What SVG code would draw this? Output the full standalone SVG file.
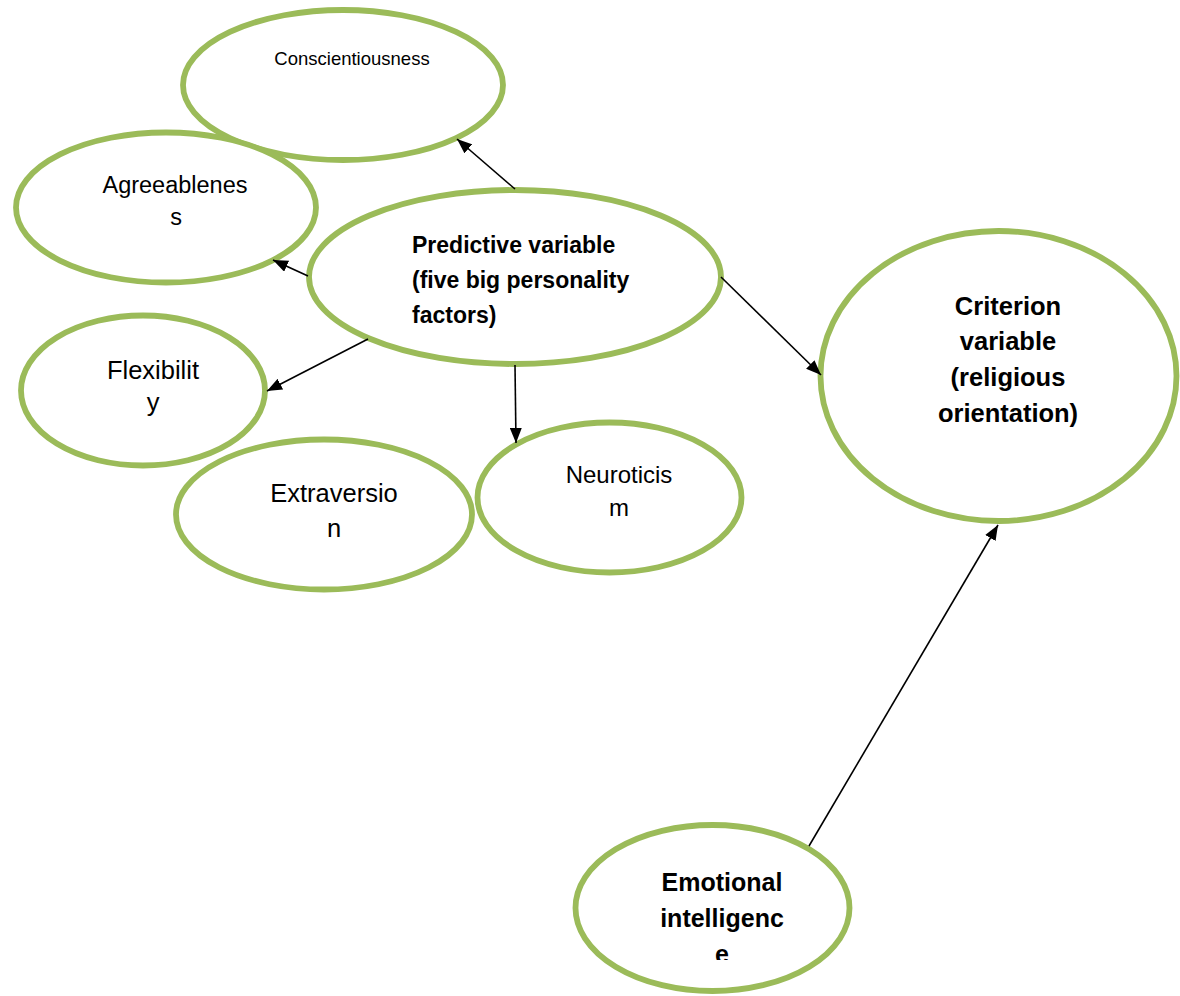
<svg xmlns="http://www.w3.org/2000/svg" width="1180" height="996" viewBox="0 0 1180 996">
<style>
.node{fill:#fff;stroke:#9BBB59;stroke-width:5.8}
.t{font-family:"Liberation Sans",Arial,sans-serif;fill:#000;text-anchor:middle}
.b{font-weight:bold}
.s{text-anchor:start}
.edge{stroke:#000;stroke-width:1.6;fill:none;marker-end:url(#ah)}
</style>
<defs>
<marker id="ah" markerUnits="userSpaceOnUse" markerWidth="16" markerHeight="12" refX="15" refY="6" orient="auto">
<path d="M0,0 L15,6 L0,12 z" fill="#000"/>
</marker>
<clipPath id="clipE"><rect x="560" y="800" width="320" height="160"/></clipPath>
</defs>
<rect width="1180" height="996" fill="#fff"/>
<g id="n-conscientiousness">
<ellipse class="node" cx="343" cy="85" rx="160" ry="75"/>
<text class="t" x="352" y="65" font-size="18.5">Conscientiousness</text>
</g>
<g id="n-agreeableness">
<ellipse class="node" cx="166" cy="207.5" rx="150" ry="75"/>
<text class="t" x="175" y="193" font-size="23.5">Agreeablenes</text>
<text class="t" x="176" y="225" font-size="23.5">s</text>
</g>
<g id="n-flexibility">
<ellipse class="node" cx="143" cy="390.5" rx="122" ry="75"/>
<text class="t" x="153" y="379" font-size="25.5">Flexibilit</text>
<text class="t" x="153" y="411" font-size="25.5">y</text>
</g>
<g id="n-extraversion">
<ellipse class="node" cx="324" cy="514.5" rx="148" ry="75"/>
<text class="t" x="334" y="502" font-size="25.5">Extraversio</text>
<text class="t" x="334" y="537" font-size="25.5">n</text>
</g>
<g id="n-neuroticism">
<ellipse class="node" cx="609.5" cy="497.5" rx="132" ry="75"/>
<text class="t" x="619" y="483" font-size="24">Neuroticis</text>
<text class="t" x="619" y="516" font-size="24">m</text>
</g>
<g id="n-predictive">
<ellipse class="node" cx="515" cy="277" rx="206" ry="87"/>
<text class="t b s" x="412" y="253" font-size="23">Predictive variable</text>
<text class="t b s" x="412" y="288" font-size="23">(five big personality</text>
<text class="t b s" x="412" y="323" font-size="23">factors)</text>
</g>
<g id="n-criterion">
<ellipse class="node" cx="998.5" cy="376" rx="178" ry="145"/>
<text class="t b" x="1008" y="315" font-size="25.5">Criterion</text>
<text class="t b" x="1008" y="350" font-size="25.5">variable</text>
<text class="t b" x="1008" y="386" font-size="25.5">(religious</text>
<text class="t b" x="1008" y="422" font-size="25.5">orientation)</text>
</g>
<g id="n-emotional">
<ellipse class="node" cx="712.5" cy="908" rx="137" ry="83"/>
<text class="t b" x="722" y="891" font-size="25">Emotional</text>
<text class="t b" x="722" y="927" font-size="25">intelligenc</text>
<text class="t b" x="722" y="963" font-size="25" clip-path="url(#clipE)">e</text>
</g>
<g id="connectors">
<line class="edge" x1="515" y1="189" x2="457" y2="139"/>
<line class="edge" x1="308" y1="276" x2="273" y2="260"/>
<line class="edge" x1="368" y1="339" x2="267" y2="391"/>
<line class="edge" x1="515" y1="365" x2="516" y2="443"/>
<line class="edge" x1="721" y1="277" x2="821" y2="375"/>
<line class="edge" x1="809" y1="846" x2="998" y2="525"/>
</g>
</svg>
